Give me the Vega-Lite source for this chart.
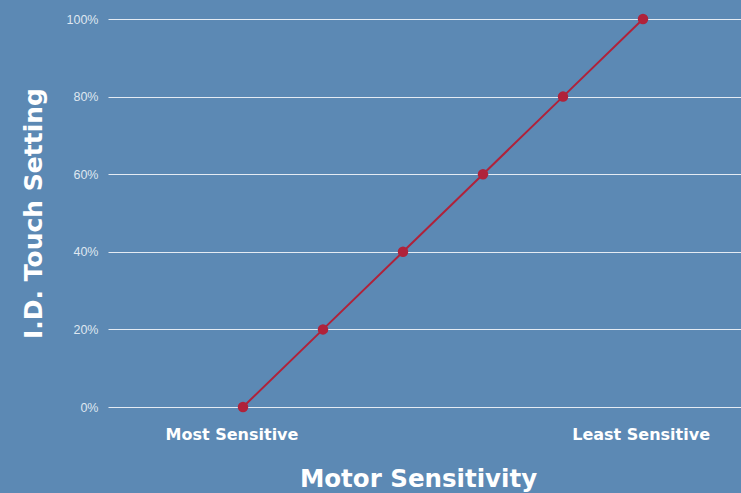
{
  "$schema": "https://vega.github.io/schema/vega-lite/v6.json",
  "width": 633,
  "height": 388,
  "autosize": {"type": "none"},
  "padding": {"left": 108, "top": 19, "right": 0, "bottom": 86},
  "background": "#5c89b4",
  "config": {
    "view": {"stroke": null},
    "font": "Liberation Sans"
  },
  "data": {
    "values": [
      {"sensitivity": 1, "setting": 0},
      {"sensitivity": 2, "setting": 20},
      {"sensitivity": 3, "setting": 40},
      {"sensitivity": 4, "setting": 60},
      {"sensitivity": 5, "setting": 80},
      {"sensitivity": 6, "setting": 100}
    ]
  },
  "encoding": {
    "x": {
      "field": "sensitivity",
      "type": "quantitative",
      "scale": {"domain": [-0.6875, 7.225], "nice": false, "zero": false},
      "axis": {
        "values": [0.856, 5.97],
        "labelExpr": "datum.value < 3 ? 'Most Sensitive' : 'Least Sensitive'",
        "grid": false,
        "domain": false,
        "ticks": false,
        "labelPadding": 19,
        "labelFont": "DejaVu Sans",
        "labelFontSize": 16,
        "labelFontWeight": "bold",
        "labelColor": "#ffffff",
        "title": "Motor Sensitivity",
        "titleFont": "DejaVu Sans",
        "titleFontSize": 24.5,
        "titleFontWeight": "bold",
        "titleColor": "#ffffff",
        "titlePadding": 25,
        "titleX": 310
      }
    },
    "y": {
      "field": "setting",
      "type": "quantitative",
      "scale": {"domain": [0, 100], "nice": false},
      "axis": {
        "values": [0, 20, 40, 60, 80, 100],
        "labelExpr": "datum.value + '%'",
        "grid": true,
        "gridColor": "#e4ebf3",
        "gridWidth": 1.2,
        "domain": false,
        "ticks": false,
        "labelPadding": 10,
        "labelFont": "Liberation Sans",
        "labelFontSize": 12.5,
        "labelColor": "#dfe7f0",
        "title": "I.D. Touch Setting",
        "titleFont": "DejaVu Sans",
        "titleFontSize": 25,
        "titleFontWeight": "bold",
        "titleColor": "#ffffff",
        "titlePadding": 20
      }
    }
  },
  "layer": [
    {"mark": {"type": "line", "color": "#b0223a", "strokeWidth": 2}},
    {"mark": {"type": "point", "filled": true, "color": "#b0223a", "opacity": 1, "size": 110}}
  ]
}
